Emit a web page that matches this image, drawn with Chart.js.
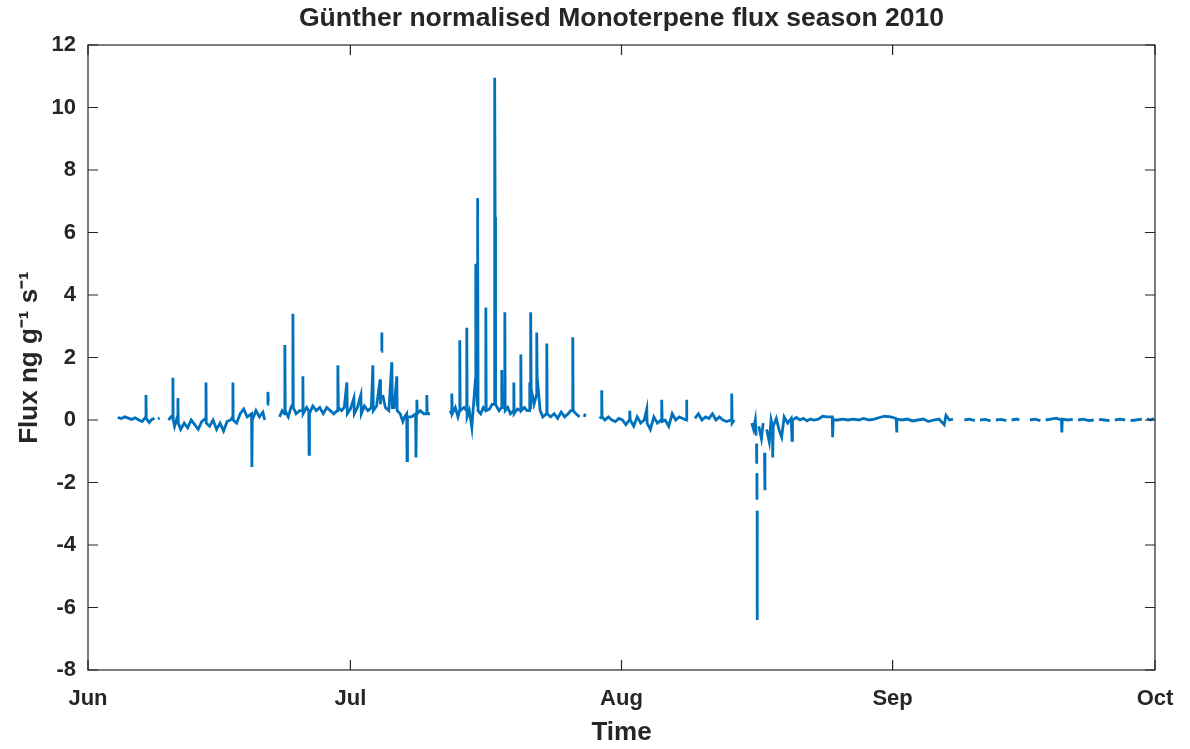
<!DOCTYPE html>
<html>
<head>
<meta charset="utf-8">
<script src="https://cdn.jsdelivr.net/npm/chart.js@4.4.1/dist/chart.umd.min.js"></script>
<style>
  html, body { margin: 0; padding: 0; background: #fff; }
  canvas { display: block; }
</style>
</head>
<body>
<canvas id="fluxChart" width="1190" height="749"></canvas>
<script>
// sample times in days since 1 June 2010, null flux = no measurement
const sampleDays = [
  3.4, 3.8, 4.2, 4.6, 5.0, 5.4, 5.8, 6.2,
  6.6, 6.63, 6.66, 7.0, 7.3, 7.6, 7.8, 8.0,
  8.2, 8.7,
  9.2, 9.5, 9.68, 9.71, 9.74, 9.9, 10.2, 10.27,
  10.29, 10.32, 10.6, 11.0, 11.4, 11.8, 12.2, 12.6,
  13.0, 13.45, 13.49, 13.52, 13.9, 14.3, 14.7, 15.1,
  15.5, 15.9, 16.3, 16.54, 16.57, 16.6, 17.0, 17.4,
  17.8, 18.2, 18.7, 18.74, 18.78, 19.2, 19.6, 20.0,
  20.2, 20.35, 20.5, 20.57, 20.62, 21.2,
  21.9, 22.2, 22.48, 22.51, 22.55, 22.9, 23.2, 23.4,
  23.43, 23.47, 23.8, 24.2, 24.54, 24.57, 24.6, 25.0,
  25.24, 25.28, 25.32, 25.7, 26.1, 26.5, 26.9, 27.3,
  27.7, 28.1, 28.5, 28.57, 28.62, 29.0, 29.3, 29.6,
  29.65, 30.0, 30.4, 30.45, 30.8, 31.2, 31.25, 31.6,
  32.0, 32.4, 32.57, 32.62, 33.0, 33.4, 33.45, 33.5,
  33.55, 33.6, 33.65, 33.7, 34.0, 34.4, 34.74, 34.8,
  35.0, 35.31, 35.35, 35.7, 36.0, 36.2, 36.44, 36.48,
  36.53, 37.0, 37.46, 37.5, 37.55, 37.6, 37.65, 38.0,
  38.4, 38.7, 38.74, 38.78, 39.1, 40.2,
  41.4, 41.58, 41.6, 41.65, 42.0, 42.3, 42.48, 42.51,
  42.55, 43.0, 43.28, 43.31, 43.35, 43.6, 43.89, 44.0,
  44.3, 44.34, 44.4, 44.5, 44.55, 44.6, 44.9, 45.2,
  45.46, 45.49, 45.53, 45.9, 46.2, 46.45, 46.5, 46.55,
  46.6, 47.0, 47.28, 47.31, 47.35, 47.62, 47.66, 47.7,
  48.0, 48.3, 48.66, 48.69, 48.72, 49.1, 49.46, 49.49,
  49.53, 49.9, 50.2, 50.48, 50.51, 50.55, 50.6, 50.63,
  50.67, 51.0, 51.28, 51.31, 51.35, 51.7, 52.0, 52.43,
  52.46, 52.5, 52.9, 53.3, 53.7, 54.1, 54.5, 54.9,
  55.2, 55.4, 55.43, 55.47, 55.8, 56.2, 56.5, 56.75,
  56.85, 57.6,
  58.5, 58.7, 58.74, 58.78, 59.1, 59.5, 59.9, 60.3,
  60.7, 61.1, 61.5, 61.9, 61.94, 62.0, 62.4, 62.8,
  63.2, 63.6, 63.89, 63.93, 64.3, 64.7, 65.1, 65.55,
  65.6, 65.65, 66.0, 66.4, 66.8, 67.2, 67.6, 68.0,
  68.4, 68.44, 68.48, 68.9,
  69.4, 69.8, 70.2, 70.6, 71.0, 71.4, 71.8, 72.2,
  72.6, 73.0, 73.55, 73.6, 73.65, 73.9, 74.9,
  75.9, 76.1, 76.3, 76.4, 76.42, 76.44, 76.46, 76.47,
  76.48, 76.49, 76.5, 76.51, 76.52, 76.6, 76.7, 77.0,
  77.2, 77.3, 77.35, 77.4, 77.5, 77.6, 77.9, 78.1,
  78.26, 78.29, 78.35, 78.7, 79.0, 79.31, 79.6, 80.0,
  80.4, 80.5, 80.55, 81.0, 81.4, 81.8, 82.2, 82.6,
  83.0, 83.5, 84.0, 84.5, 85.1, 85.14, 85.2, 85.7,
  86.3, 86.9, 87.5, 88.1, 88.7, 89.3, 89.9, 90.5,
  91.1, 91.8, 92.4, 92.46, 92.5, 93.1, 93.7, 94.3,
  94.9, 95.5, 96.1, 96.7, 97.3, 97.9, 98.1, 98.5,
  98.9, 99.5,
  100.2, 100.8, 101.4, 101.6, 102.0, 102.6, 103.2, 103.4,
  103.8, 104.4, 105.0, 105.2, 105.6, 106.2, 106.5, 107.1,
  107.7, 108.3, 108.9, 109.1, 109.5, 110.1, 110.7, 111.3,
  111.35, 111.4, 112.0, 112.6, 112.8, 113.2, 113.8, 114.4,
  115.0, 115.2, 115.6, 116.2, 116.8, 117.0, 117.4, 118.0,
  118.6, 118.8, 119.2, 119.8, 120.5, 120.8, 121.1, 121.5,
  121.9
];

// normalised monoterpene flux, ng g-1 s-1
const fluxValues = [
  0.08, 0.05, 0.1, 0.06, 0.02, 0.07, 0.0, -0.05,
  0.1, 0.8, 0.05, -0.08, 0.02, 0.05, null, 0.04,
  0.06, null,
  0.0, 0.1, 0.05, 1.35, 0.0, -0.2, 0.1, 0.15,
  0.7, -0.1, -0.3, -0.1, -0.25, 0.0, -0.15, -0.3,
  -0.05, 0.05, 1.2, -0.1, -0.2, 0.0, -0.3, -0.1,
  -0.35, -0.05, 0.0, 0.1, 1.2, 0.0, -0.1, 0.2,
  0.35, 0.1, 0.2, -1.5, 0.0, 0.3, 0.1, 0.25,
  0.0, null, 0.5, 0.9, 0.6, null,
  0.1, 0.3, 0.2, 2.4, 0.3, 0.1, 0.4, 0.5,
  3.4, 0.4, 0.2, 0.3, 0.3, 1.4, 0.2, 0.4,
  0.3, -1.1, 0.2, 0.45, 0.3, 0.4, 0.2, 0.4,
  0.3, 0.2, 0.3, 1.75, 0.4, 0.3, 0.4, 1.2,
  0.2, 0.35, 0.7, 0.2, 0.4, 0.8, 0.2, 0.45,
  0.3, 0.4, 1.75, 0.3, 0.45, 1.3, 0.5, null,
  2.2, 2.8, null, 0.8, 0.4, 0.3, 1.85, 0.4,
  0.4, 1.4, 0.3, 0.2, -0.05, 0.1, 0.2, -1.3,
  0.1, 0.1, 0.2, -1.2, 0.2, 0.65, 0.2, 0.3,
  0.2, 0.2, 0.8, 0.2, 0.2, null,
  0.3, 0.2, 0.85, 0.2, 0.4, 0.1, 0.3, 2.55,
  0.3, 0.4, 0.3, 2.95, 0.1, 0.3, -0.25, 0.2,
  1.3, 5.0, 1.8, 0.5, 7.1, 0.3, 0.2, 0.4,
  0.3, 3.6, 0.3, 0.35, 0.5, 0.5, 10.95, 6.5,
  0.5, 0.3, 0.4, 1.6, 0.4, 0.4, 3.45, 0.3,
  0.4, 0.2, 0.3, 1.2, 0.2, 0.35, 0.3, 2.1,
  0.3, 0.4, 0.3, 0.3, 1.2, 0.4, 0.5, 3.45,
  1.0, 0.5, 0.8, 2.8, 1.4, 0.3, 0.1, 0.2,
  2.45, 0.2, 0.1, 0.2, 0.05, 0.25, 0.1, 0.2,
  0.3, 0.3, 2.65, 0.3, 0.2, 0.1, null, 0.1,
  0.2, null,
  0.05, 0.1, 0.95, 0.1, 0.0, 0.1, 0.0, -0.05,
  0.05, 0.0, -0.15, 0.0, 0.3, 0.0, -0.2, 0.1,
  -0.1, 0.0, 0.35, -0.1, -0.3, 0.1, -0.1, 0.0,
  0.65, -0.05, 0.0, -0.2, 0.2, 0.0, 0.1, 0.05,
  0.0, 0.65, 0.0, null,
  0.05, 0.2, 0.0, 0.1, 0.05, 0.2, 0.0, 0.1,
  0.0, -0.05, 0.0, 0.85, -0.1, 0.0, null,
  -0.1, -0.3, 0.0, -0.5, null, -0.75, -1.4, null,
  -1.7, -2.55, null, -2.9, -6.4, null, -0.2, -0.6,
  -0.1, null, -1.05, -2.25, null, -0.3, -0.7, 0.0,
  -0.2, -1.2, -0.2, 0.05, -0.3, -0.55, 0.1, -0.1,
  0.05, -0.65, 0.0, 0.08, 0.0, 0.05, -0.03, 0.03,
  0.0, 0.03, 0.12, 0.1, 0.1, -0.55, 0.0, 0.0,
  0.03, 0.0, 0.03, 0.0, 0.05, 0.0, 0.03, 0.08,
  0.12, 0.1, 0.05, -0.4, 0.03, 0.0, 0.03, -0.03,
  0.0, 0.03, -0.05, 0.0, 0.03, -0.15, 0.15, 0.0,
  0.03, null,
  0.0, 0.03, -0.02, null, 0.0, 0.02, -0.03, null,
  0.0, 0.02, -0.02, null, 0.0, 0.03, 0.0, null,
  0.0, 0.03, -0.02, null, 0.0, 0.03, 0.06, 0.0,
  -0.4, 0.03, 0.0, 0.02, null, 0.0, 0.03, -0.02,
  0.0, null, 0.02, 0.0, -0.02, null, 0.0, 0.03,
  0.0, null, -0.02, 0.0, 0.03, null, 0.04, 0.0,
  0.05
];

// month boundaries (days since 1 June) and their labels
const monthStarts = [0, 30, 61, 92, 122];
const monthLabels = ["Jun", "Jul", "Aug", "Sep", "Oct"];
const fluxTicks = [-8, -6, -4, -2, 0, 2, 4, 6, 8, 10, 12];
const chartTitle = "Günther normalised Monoterpene flux season 2010";

const ink = "#262626";
const fontFamily = "'Liberation Sans', Arial, sans-serif";

// title centred over the plot area, then a box with inward ticks on all sides
const axesBox = {
  id: "axesBox",
  afterDraw(chart) {
    const { ctx, chartArea: a, scales } = chart;
    const len = 10;
    ctx.save();
    ctx.fillStyle = ink;
    ctx.font = `bold 26.5px ${fontFamily}`;
    ctx.textAlign = "center";
    ctx.textBaseline = "middle";
    ctx.fillText(chartTitle, (a.left + a.right) / 2, 19);

    ctx.strokeStyle = ink;
    ctx.lineWidth = 1.2;
    ctx.strokeRect(a.left, a.top, a.right - a.left, a.bottom - a.top);
    ctx.beginPath();
    scales.x.ticks.forEach(t => {
      const px = scales.x.getPixelForValue(t.value);
      ctx.moveTo(px, a.bottom); ctx.lineTo(px, a.bottom - len);
      ctx.moveTo(px, a.top); ctx.lineTo(px, a.top + len);
    });
    scales.y.ticks.forEach(t => {
      const py = scales.y.getPixelForValue(t.value);
      ctx.moveTo(a.left, py); ctx.lineTo(a.left + len, py);
      ctx.moveTo(a.right, py); ctx.lineTo(a.right - len, py);
    });
    ctx.stroke();
    ctx.restore();
  }
};

const points = sampleDays.map((d, i) => ({ x: d, y: fluxValues[i] }));

new Chart(document.getElementById("fluxChart"), {
  type: "line",
  data: {
    datasets: [{
      label: "Monoterpene flux",
      data: points,
      borderColor: "#0072BD",
      borderWidth: 2.8,
      pointRadius: 0,
      tension: 0,
      spanGaps: false
    }]
  },
  options: {
    responsive: false,
    animation: false,
    layout: { padding: { top: 45, right: 35, bottom: 0, left: 0 } },
    plugins: {
      legend: { display: false },
      tooltip: { enabled: false },
      title: { display: false }
    },
    scales: {
      x: {
        type: "linear",
        min: 0,
        max: 122,
        afterBuildTicks: s => { s.ticks = monthStarts.map(v => ({ value: v })); },
        afterFit: s => { s.height = 79; },
        grid: { display: false, drawTicks: false },
        border: { display: false },
        ticks: {
          padding: 16,
          color: ink,
          maxRotation: 0,
          autoSkip: false,
          font: { family: fontFamily, size: 22, weight: "bold" },
          callback: v => monthLabels[monthStarts.indexOf(v)]
        },
        title: {
          display: true,
          text: "Time",
          color: ink,
          font: { family: fontFamily, size: 26, weight: "bold" },
          padding: { top: 0, bottom: 1 }
        }
      },
      y: {
        min: -8,
        max: 12,
        afterBuildTicks: s => { s.ticks = fluxTicks.map(v => ({ value: v })); },
        afterFit: s => { s.width = 88; },
        grid: { display: false, drawTicks: false },
        border: { display: false },
        ticks: {
          padding: 12,
          color: ink,
          font: { family: fontFamily, size: 22, weight: "bold" }
        },
        title: {
          display: true,
          text: "Flux ng g⁻¹ s⁻¹",
          color: ink,
          font: { family: fontFamily, size: 26, weight: "bold" },
          padding: { top: 14, bottom: 0 }
        }
      }
    }
  },
  plugins: [axesBox]
});
</script>
</body>
</html>
